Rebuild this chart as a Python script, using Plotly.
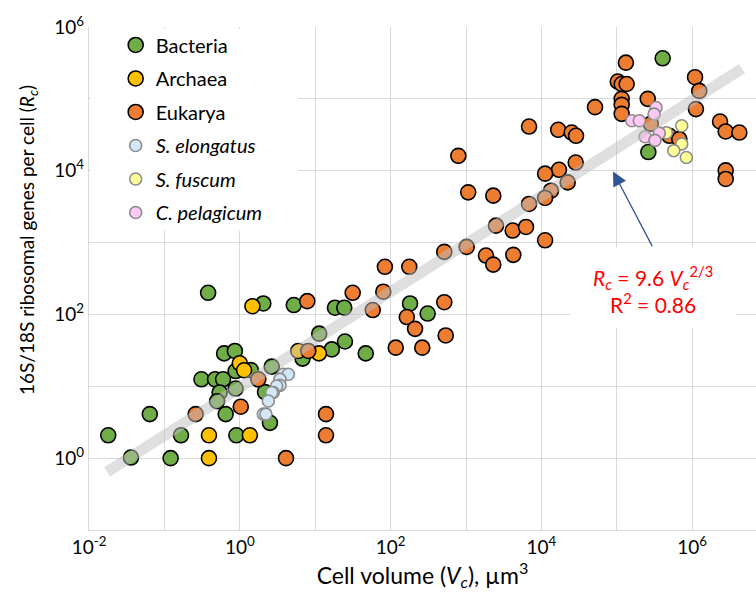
import math
import plotly.graph_objects as go

# ---------------- data (cell volume in um^3, ribosomal genes per cell) ----------------
bact_V = [0.38, 0.62, 0.86, 0.31, 0.47, 0.60, 0.88, 1.40, 0.54, 0.50, 0.88, 0.064, 0.65,
          0.018, 0.166, 0.90, 0.036, 0.121, 2.05, 5.2, 18.3, 24.3, 181, 11.3, 24.8, 16.6,
          46.8, 6.8, 2.65, 2.16, 2.51, 310, 4.06e5, 2.62e5]
bact_R = [200, 28.7, 31, 12.5, 12.5, 12.5, 16.3, 16.8, 8.2, 6.2, 9.3, 4.1, 4.1,
          2.08, 2.08, 2.08, 1.02, 1.0, 142, 135, 124, 124, 142, 54, 42, 32.6,
          28.7, 24.3, 18.8, 8.3, 3.1, 103, 3.67e5, 1.82e4]

arch_V = [1.47, 1.0, 1.14, 0.39, 1.36, 0.39, 11.2, 5.97]
arch_R = [130, 20.9, 16.7, 2.08, 2.08, 1.0, 28.7, 31]

euk_V = [1.03, 0.26, 7.85, 31.4, 80, 58, 164, 211, 117, 263, 8.1, 1.76, 13.9, 13.9, 4.1,
         84, 177, 515, 538, 6860, 1.67e4, 2.52e4, 2.88e4, 791, 2.85e4, 1.71e4, 1.12e4,
         1070, 2300, 2.23e4, 1.34e4, 1.12e4, 6860, 2500, 4160, 6250, 1.12e4, 1020, 515,
         1840, 2300, 4240, 1.32e5, 1.03e5, 1.16e5, 1.35e5, 1.16e5, 1.16e5, 1.16e5, 5.14e4,
         2.57e5, 2.82e5, 4.97e5, 6.74e5, 1.09e6, 1.24e6, 1.12e6, 2.34e6, 2.78e6, 4.22e6,
         2.78e6, 2.78e6]
euk_R = [5.2, 4.1, 153, 200, 207, 115, 92, 63, 34.5, 34.5, 31, 12.5, 4.1, 2.08, 1.0,
         460, 460, 148, 51, 4.12e4, 3.71e4, 3.4e4, 3.06e4, 1.61e4, 1.30e4, 1.03e4, 9100,
         5000, 4500, 6880, 5270, 4180, 3450, 1720, 1470, 1650, 1077, 870, 743,
         660, 494, 675, 3.19e5, 1.74e5, 1.61e5, 1.61e5, 1.0e5, 8.25e4, 6.19e4, 7.67e4,
         1.0e5, 4.5e4, 3.06e4, 2.75e4, 2.0e5, 1.29e5, 7.2e4, 4.84e4, 3.52e4, 3.4e4,
         1.01e4, 7670]

selong_V = [3.78, 4.4, 3.41, 3.41, 3.08, 2.78, 2.65, 2.39, 2.05, 2.22]
selong_R = [14.7, 14.7, 12.5, 10.3, 10.1, 8.2, 8.2, 6.25, 4.1, 4.1]

sfusc_V = [7.26e5, 4.55e5, 7.26e5, 5.69e5, 8.36e5]
sfusc_R = [4.22e4, 3.37e4, 2.36e4, 1.9e4, 1.53e4]

cpel_V = [3.31e5, 3.12e5, 1.58e5, 1.99e5, 3.66e5, 2.37e5, 3.21e5]
cpel_R = [7.57e4, 6.13e4, 4.95e4, 4.95e4, 3.34e4, 2.97e4, 2.64e4]

fit_coef = 9.6
fit_exp = 2 / 3
fit_V = [0.0174, 4.57e6]
fit_R = [fit_coef * v ** fit_exp for v in fit_V]

x_tickvals = [1e-2, 1e0, 1e2, 1e4, 1e6]
x_ticktext = ["10<sup>-2</sup>", "10<sup>0</sup>", "10<sup>2</sup>", "10<sup>4</sup>",
              "10<sup>6</sup>"]
x_minorvals = [1e-1, 1e1, 1e3, 1e5]
y_tickvals = [1e0, 1e2, 1e4, 1e6]
y_ticktext = ["10<sup>0</sup>", "10<sup>2</sup>", "10<sup>4</sup>", "10<sup>6</sup>"]
y_minorvals = [1e-1, 1e1, 1e3, 1e5]

FONT = "Lato"
GRID = "#D9D9D9"
fig = go.Figure()

big = dict(size=15, line=dict(color="black", width=1.6))
small_line = dict(color="#8C8C8C", width=1.6)

series = [
    ("Bacteria", bact_V, bact_R, dict(big, color="#70AD47")),
    ("Archaea", arch_V, arch_R, dict(big, color="#FFC000")),
    ("Eukarya", euk_V, euk_R, dict(big, color="#ED7D31")),
    ("<i>S. elongatus</i>", selong_V, selong_R, dict(size=12, color="#D2E8F8", line=small_line)),
    ("<i>S. fuscum</i>", sfusc_V, sfusc_R, dict(size=12, color="#FFFF99", line=small_line)),
    ("<i>C. pelagicum</i>", cpel_V, cpel_R, dict(size=12, color="#FFC9F5", line=small_line)),
]
for i, (name, xv, yv, mk) in enumerate(series):
    fig.add_trace(go.Scatter(x=xv, y=yv, mode="markers", name=name, marker=mk,
                             legendgroup=f"g{i}"))

fig.add_trace(go.Scatter(x=fit_V, y=fit_R, mode="lines", showlegend=False,
                         hoverinfo="skip",
                         line=dict(color="rgba(191,191,191,0.5)", width=11)))

# white backing boxes (legend area, equation area) covering the grid
fig.add_shape(type="rect", xref="paper", yref="paper", x0=0.003, x1=0.313, y0=0.596, y1=0.996,
              fillcolor="white", line=dict(width=0), layer="above")
fig.add_shape(type="rect", xref="paper", yref="paper", x0=0.721, x1=0.970, y0=0.402, y1=0.561,
              fillcolor="white", line=dict(width=0), layer="above")

axis_common = dict(type="log", showgrid=True, gridcolor=GRID, gridwidth=1.3,
                   showline=True, linecolor=GRID, linewidth=1.3, ticks="",
                   tickmode="array", tickfont=dict(family=FONT, size=19, color="black"),
                   zeroline=False)

fig.update_layout(
    width=756, height=593,
    margin=dict(l=89, r=0, t=27, b=63),
    paper_bgcolor="white", plot_bgcolor="white",
    font=dict(family=FONT, color="black"),
    xaxis=dict(axis_common, range=[-2, 6.846], tickvals=x_tickvals, ticktext=x_ticktext,
               minor=dict(tickmode="array", tickvals=x_minorvals, showgrid=True,
                          gridcolor=GRID, gridwidth=1.3, ticks=""),
               title=dict(text="Cell volume (<i>V<sub>c</sub></i>), µm<sup>3</sup>",
                          font=dict(family=FONT, size=23, color="black"), standoff=5)),
    yaxis=dict(axis_common, range=[-1, 6], tickvals=y_tickvals, ticktext=y_ticktext,
               minor=dict(tickmode="array", tickvals=y_minorvals, showgrid=True,
                          gridcolor=GRID, gridwidth=1.3, ticks="")),
    legend=dict(x=0.040, y=1.003, xanchor="left", yanchor="top", bgcolor="rgba(0,0,0,0)",
                font=dict(family=FONT, size=20, color="black"), tracegroupgap=4.5),
    showlegend=True,
)

fig.add_annotation(xref="paper", yref="paper", x=-0.0915, y=0.5765, textangle=-90,
                   xanchor="center", yanchor="middle",
                   text="16S/18S ribosomal genes per cell (<i>R<sub>c</sub></i>)",
                   showarrow=False, font=dict(family=FONT, size=19, color="black"))

fig.add_annotation(xref="paper", yref="paper", x=0.846, y=0.479,
                   xanchor="center", yanchor="middle",
                   text="<i>R<sub>c</sub></i> = 9.6 <i>V<sub>c</sub></i><sup>2/3</sup><br>R<sup>2</sup> = 0.86",
                   showarrow=False, align="center",
                   font=dict(family=FONT, size=21, color="#FF0000"))

fig.add_annotation(xref="x", yref="y", axref="x", ayref="y",
                   x=4.95, y=3.99, ax=5.48, ay=2.93, text="", showarrow=True,
                   arrowhead=2, arrowsize=2.2, arrowwidth=1.3, arrowcolor="#2F5597")

fig.write_html("out.html")
